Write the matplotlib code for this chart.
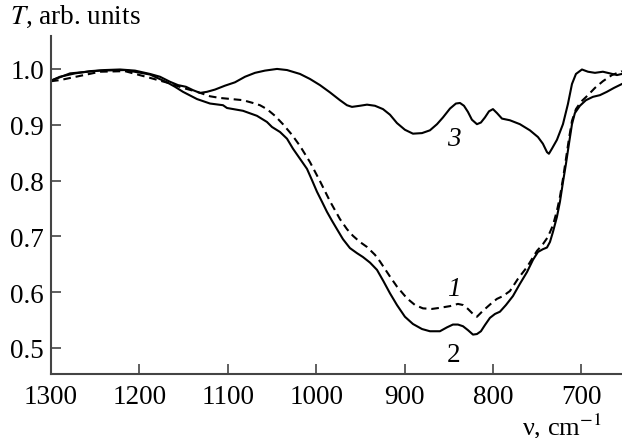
import matplotlib
matplotlib.use("Agg")
import matplotlib.pyplot as plt

plt.rcParams['font.family'] = ['Liberation Serif', 'DejaVu Serif']
plt.rcParams['mathtext.fontset'] = 'stix'
plt.rcParams['lines.scale_dashes'] = False

# Curve 3 (upper solid)
nu3 = [1300, 1289.8, 1272.9, 1255.9, 1238.9, 1221.9, 1205.0, 1188.0, 1176.7, 1165.4,
       1156.3, 1147.3, 1139.4, 1131.4, 1123.5, 1114.5, 1103.2, 1091.9, 1080.5, 1069.2,
       1057.9, 1044.3, 1033.0, 1018.3, 1007.0, 995.7, 984.4, 973.1, 965.2, 959.5,
       950.5, 942.5, 933.5, 924.4, 916.5, 908.6, 899.6, 890.5, 880.3, 871.3,
       863.3, 856.6, 848.6, 841.9, 837.3, 832.8, 828.3, 823.8, 818.1, 813.6,
       809.1, 804.5, 800.0, 795.5, 789.8, 780.8, 769.5, 758.2, 749.1, 743.5,
       738.9, 736.7, 733.3, 727.6, 720.8, 715.2, 710.6, 706.1, 699.3, 692.5,
       684.6, 675.6, 667.6, 659.7, 654.1]
T3 = [0.979, 0.986, 0.992, 0.996, 0.998, 0.999, 0.997, 0.991, 0.986, 0.977,
      0.971, 0.968, 0.962, 0.957, 0.959, 0.963, 0.970, 0.976, 0.986, 0.993,
      0.997, 1.000, 0.998, 0.991, 0.982, 0.971, 0.958, 0.944, 0.935, 0.932,
      0.934, 0.936, 0.934, 0.928, 0.918, 0.903, 0.891, 0.884, 0.885, 0.890,
      0.901, 0.913, 0.929, 0.938, 0.939, 0.934, 0.923, 0.909, 0.901, 0.904,
      0.913, 0.924, 0.928, 0.921, 0.911, 0.908, 0.901, 0.890, 0.878, 0.866,
      0.851, 0.848, 0.857, 0.873, 0.901, 0.937, 0.973, 0.991, 0.999, 0.995,
      0.993, 0.995, 0.992, 0.989, 0.991]

# Curve 2 (lower solid)
nu2 = [1300, 1278.5, 1244.6, 1216.3, 1188.0, 1167.6, 1159.7, 1150.7, 1134.8, 1120.1,
       1105.4, 1100.9, 1082.8, 1067.0, 1055.7, 1050.0, 1040.9, 1033.0, 1026.2, 1018.3,
       1010.4, 1004.8, 999.1, 993.4, 987.8, 982.1, 976.5, 969.7, 961.8, 953.9,
       947.1, 939.1, 931.2, 924.0, 916.5, 908.6, 899.6, 890.5, 880.3, 871.3,
       860.0, 852.0, 845.3, 839.6, 833.9, 828.3, 822.6, 818.1, 813.6, 809.1,
       803.4, 797.7, 792.1, 785.3, 777.4, 769.5, 761.5, 754.7, 749.1, 743.5,
       738.9, 735.5, 732.1, 727.6, 724.2, 720.8, 717.4, 714.0, 710.6, 707.3,
       701.6, 694.8, 686.9, 679.0, 671.1, 663.1, 654.1]
T2 = [0.979, 0.992, 0.997, 0.998, 0.990, 0.975, 0.968, 0.959, 0.946, 0.938,
      0.935, 0.930, 0.925, 0.916, 0.905, 0.896, 0.887, 0.875, 0.857, 0.839,
      0.821, 0.801, 0.780, 0.762, 0.744, 0.728, 0.713, 0.695, 0.679, 0.670,
      0.663, 0.653, 0.640, 0.620, 0.598, 0.577, 0.556, 0.543, 0.534, 0.530,
      0.530, 0.537, 0.542, 0.542, 0.539, 0.532, 0.524, 0.525, 0.530, 0.541,
      0.554, 0.561, 0.565, 0.577, 0.593, 0.615, 0.636, 0.658, 0.672, 0.677,
      0.680, 0.690, 0.708, 0.735, 0.762, 0.797, 0.830, 0.866, 0.901, 0.921,
      0.934, 0.944, 0.950, 0.953, 0.959, 0.966, 0.973]

# Curve 1 (dashed)
nu1 = [1300, 1289.8, 1244.6, 1216.3, 1188.0, 1167.6, 1150.7, 1134.8, 1120.1, 1108.8,
       1082.8, 1071.5, 1063.6, 1055.7, 1046.6, 1037.6, 1027.4, 1018.3, 1007.0, 995.7,
       984.4, 973.1, 965.2, 958.4, 950.5, 942.5, 933.5, 927.8, 916.5, 908.6,
       897.3, 888.2, 879.2, 869.0, 860.0, 848.6, 839.6, 833.9, 828.3, 822.6,
       818.1, 812.4, 806.8, 801.1, 795.5, 788.7, 780.8, 771.7, 761.5, 750.2,
       743.5, 737.8, 732.1, 727.6, 724.2, 720.8, 717.4, 714.0, 710.6, 706.1,
       700.5, 692.5, 684.6, 675.6, 665.4, 654.1]
T1 = [0.978, 0.980, 0.995, 0.996, 0.984, 0.975, 0.966, 0.959, 0.951, 0.948,
      0.944, 0.939, 0.935, 0.928, 0.916, 0.901, 0.882, 0.862, 0.833, 0.799,
      0.763, 0.731, 0.713, 0.701, 0.690, 0.681, 0.667, 0.655, 0.628, 0.610,
      0.589, 0.577, 0.571, 0.570, 0.572, 0.575, 0.579, 0.577, 0.570, 0.561,
      0.556, 0.565, 0.573, 0.581, 0.588, 0.593, 0.602, 0.624, 0.645, 0.674,
      0.686, 0.699, 0.720, 0.746, 0.771, 0.803, 0.839, 0.875, 0.907, 0.928,
      0.941, 0.953, 0.966, 0.978, 0.989, 0.996]

xticks = [1300, 1200, 1100, 1000, 900, 800, 700]
yticks = [0.5, 0.6, 0.7, 0.8, 0.9, 1.0]
ytick_labels = ["0.5", "0.6", "0.7", "0.8", "0.9", "1.0"]

fig = plt.figure(figsize=(6.22, 4.39), dpi=100)
ax = fig.add_axes([51/622, 64/439, 1 - 51/622, 338/439])

lw = 1.5
ink = '#000000'
ax.plot(nu3, T3, color=ink, lw=lw)
ax.plot(nu2, T2, color=ink, lw=lw)
l1, = ax.plot(nu1, T1, color=ink, lw=lw)
l1.set_dashes([5.5, 3.5])

ax.set_xlim(1300, 654)
ax.set_ylim(0.4534, 1.059)

ax.spines['top'].set_visible(False)
ax.spines['right'].set_visible(False)
for s in ('left', 'bottom'):
    ax.spines[s].set_color('#444444')
    ax.spines[s].set_linewidth(1.5)

fs = 19.5
ax.set_xticks(xticks)
ax.set_xticklabels([str(v) for v in xticks])
ax.set_yticks(yticks)
ax.set_yticklabels(ytick_labels)
ax.tick_params(direction='in', length=7, width=1.2, color='#444444',
               labelsize=fs, labelcolor=ink)
ax.tick_params(axis='x', pad=7.5)
ax.tick_params(axis='y', pad=5)

ax.text(844, 0.876, '3', fontsize=fs, style='italic', ha='center', va='center', color=ink)
ax.text(844, 0.606, '1', fontsize=fs, style='italic', ha='center', va='center', color=ink)
ax.text(844, 0.489, '2', fontsize=fs, ha='center', va='center', color=ink)

fig.text(10/622, 1 - 17/439, r'$T$, arb. units', fontsize=fs, ha='left', va='center', color=ink)
fig.text(602/622, 1 - 435/439, r'ν, cm$^{-1}$', fontsize=19, ha='right', va='baseline', color=ink)

fig.savefig('out.png', dpi=100)
